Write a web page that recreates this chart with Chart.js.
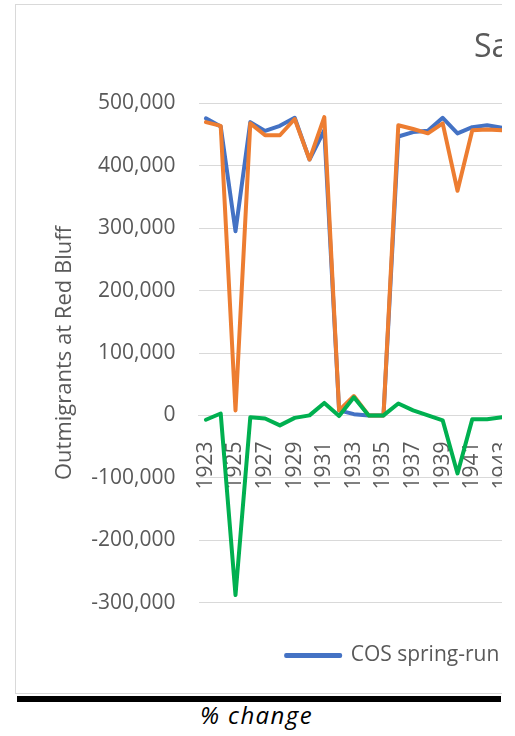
<!DOCTYPE html>
<html>
<head>
<meta charset="utf-8">
<script src="https://cdn.jsdelivr.net/npm/chart.js@4.4.1/dist/chart.umd.min.js"></script>
<style>
  body { margin: 0; background: #fff; }
  #clip { position: absolute; left: 0; top: 0; width: 502px; height: 695px; overflow: hidden; }
  #frame { position: absolute; left: 15px; top: 4px; width: 600px; height: 688px;
           border: 1px solid #d9d9d9; border-right: none; background: #fff; }
  #chart { position: absolute; left: 0; top: 0; }
  #rule { position: absolute; left: 17px; top: 696px; width: 484px; height: 6px; background: #000; }
  #caption { position: absolute; left: 200px; top: 703px; font: italic 24px 'Open Sans', sans-serif;
             line-height: 23px; letter-spacing: 1.4px; color: #000; white-space: nowrap; }
</style>
</head>
<body>
<div id="clip">
  <div id="frame">
    <canvas id="chart" width="504" height="688"></canvas>
  </div>
</div>
<div id="rule"></div>
<div id="caption">% change</div>

<script>
// Datos (años visibles hasta el recorte derecho)
const years = ['1923', '1924', '1925', '1926', '1927', '1928', '1929', '1930', '1931', '1932',
  '1933', '1934', '1935', '1936', '1937', '1938', '1939', '1940', '1941', '1942', '1943'];

const cosSpringRun = [476000, 463000, 295000, 470000, 456000, 464000, 477000, 410000, 457000, 8000,
  2000, 0, 0, 447000, 454000, 456000, 477000, 452000, 462000, 465000, 461000];

const orangeSeries = [470000, 464000, 8000, 468000, 449000, 449000, 475000, 410000, 478000, 8000,
  31000, 0, 0, 465000, 459000, 452000, 468000, 360000, 457000, 458000, 457000];

const greenSeries = [-7000, 3000, -288000, -3000, -5000, -16000, -4000, 0, 20000, -1000,
  29000, 0, 0, 19000, 8000, 0, -8000, -93000, -6000, -6000, -3000];

const yTicks = { min: -300000, max: 500000, step: 100000 };

const COLOR = {
  blue: '#4472C4',
  orange: '#ED7D31',
  green: '#00B050',
  text: '#595959',
  grid: '#d9d9d9',
};

Chart.defaults.font.family = "'Open Sans', sans-serif";
Chart.defaults.color = COLOR.text;

function serie(label, data, color, order) {
  return {
    label, data, order,
    borderColor: color, backgroundColor: color,
    borderWidth: 4, pointRadius: 0, tension: 0,
    borderJoinStyle: 'round', borderCapStyle: 'round',
  };
}

new Chart(document.getElementById('chart'), {
  type: 'line',
  data: {
    labels: years,
    datasets: [
      serie('COS spring-run', cosSpringRun, COLOR.blue, 3),
      serie('Serie 2', orangeSeries, COLOR.orange, 2),
      serie('Diferencia', greenSeries, COLOR.green, 1),
    ],
  },
  options: {
    responsive: false,
    animation: false,
    layout: { padding: { left: 0, right: 10.7, top: 0, bottom: 17 } },
    scales: {
      x: {
        type: 'category',
        offset: true,
        position: { y: 0 },
        // el eje va sobre el 0: que sus etiquetas no achiquen el área del gráfico
        afterFit: (scale) => { scale.paddingLeft = 0; scale.paddingRight = 0; },
        grid: { display: false },
        border: { color: COLOR.grid, width: 1 },
        ticks: {
          autoSkip: false, minRotation: 90, maxRotation: 90, padding: 18,
          font: { size: 21 }, color: COLOR.text,
          callback: (v, i) => (i % 2 === 0 ? years[i] : ''),
        },
      },
      y: {
        min: yTicks.min, max: yTicks.max,
        afterFit: (scale) => { scale.width = 182.5; },
        grid: { color: COLOR.grid, lineWidth: 1, drawTicks: false },
        border: { display: false },
        ticks: {
          stepSize: yTicks.step, padding: 23, font: { size: 21 }, color: COLOR.text,
          callback: (v) => Number(v).toLocaleString('en-US'),
        },
        title: {
          display: true, text: 'Outmigrants at Red Bluff', color: COLOR.text,
          font: { size: 22 }, padding: { top: 36, bottom: 0 },
        },
      },
    },
    plugins: {
      title: {
        display: true, text: 'Sa', align: 'end', color: COLOR.text,
        font: { size: 32, weight: 'normal' }, padding: { top: 24, bottom: 36 },
      },
      legend: {
        position: 'bottom', align: 'end',
        title: { display: true, text: '', font: { size: 12 }, padding: 9 },
        labels: {
          filter: (item) => item.datasetIndex === 0,
          boxWidth: 54, boxHeight: 1, padding: 10,
          font: { size: 21 }, color: COLOR.text,
        },
      },
      tooltip: { enabled: false },
    },
  },
});
</script>
</body>
</html>
